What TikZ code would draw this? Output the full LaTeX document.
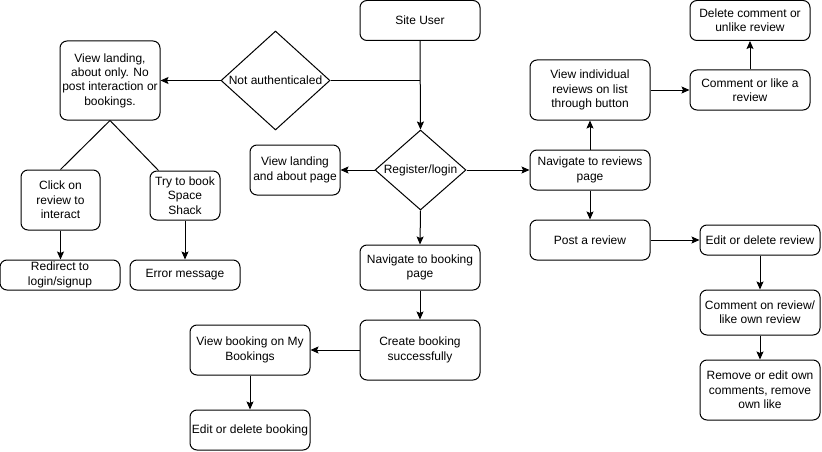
\documentclass[tikz,border=0pt]{standalone}
\usepackage{fontspec}
\setmainfont{Liberation Sans}
\usetikzlibrary{shapes.geometric,arrows.meta}
\begin{document}
\begin{tikzpicture}[x=1pt,y=-1pt,
  every node/.style={font=\fontsize{12}{14.4}\selectfont},
  box/.style={draw,rounded corners=7pt,line width=1pt,align=center,inner sep=0pt},
  dia/.style={draw,diamond,line width=1pt,inner sep=0pt},
  arr/.style={line width=1pt,-{Stealth[length=8pt,width=7pt,inset=1.5pt]}},
  ln/.style={line width=1pt}]
\useasboundingbox (0,0) rectangle (822,452);
\node[box,minimum width=120pt,minimum height=40pt] (su) at (420,20.5) {Site User};
\node[dia,minimum width=109pt,minimum height=99pt,label={center:Not authenticaled}] (na) at (275.5,80.5) {};
\node[box,minimum width=100pt,minimum height=79pt] (vl) at (110,80.5) {View landing,\\about only. No\\post interaction or\\bookings.};
\node[box,minimum width=79pt,minimum height=60pt] (cr) at (60.5,200) {Click on\\review to\\interact};
\node[box,minimum width=70pt,minimum height=49pt] (tb) at (185,195.5) {Try to book\\Space\\Shack};
\node[box,minimum width=120pt,minimum height=30pt] (rd) at (60,275) {Redirect to\\login/signup};
\node[box,minimum width=110pt,minimum height=30pt] (em) at (185,275) {Error message};
\node[box,minimum width=90pt,minimum height=50pt] (vla) at (295,170) {View landing\\and about page};
\node[dia,minimum width=91pt,minimum height=80pt,label={center:Register/login}] (rl) at (420.5,170) {};
\node[box,minimum width=120pt,minimum height=45pt] (nb) at (420,267.5) {Navigate to booking\\page};
\node[box,minimum width=120pt,minimum height=60pt] (cb) at (420,350) {Create booking\\successfully};
\node[box,minimum width=120pt,minimum height=50pt] (vb) at (250,350) {View booking on My\\Bookings};
\node[box,minimum width=120pt,minimum height=40pt] (eb) at (250,430) {Edit or delete booking};
\node[box,minimum width=120pt,minimum height=40pt] (nr) at (590,170) {Navigate to reviews\\page};
\node[box,minimum width=120pt,minimum height=60pt] (vi) at (590,90) {View individual\\reviews on list\\through button};
\node[box,minimum width=120pt,minimum height=40pt] (cl) at (750,90) {Comment or like a\\review};
\node[box,minimum width=120pt,minimum height=40pt] (dc) at (750,20.5) {Delete comment or\\unlike review};
\node[box,minimum width=120pt,minimum height=40pt] (pr) at (590,240) {Post a review};
\node[box,minimum width=120pt,minimum height=30pt] (ed) at (760,240) {Edit or delete review};
\node[box,minimum width=120pt,minimum height=45pt] (co) at (760,312.5) {Comment on review/\\like own review};
\node[box,minimum width=120pt,minimum height=60pt] (rm) at (760,390) {Remove or edit own\\comments, remove\\own like};
\coordinate (j) at (420,80.5);
% connectors
\draw[arr] (su.south) -- (rl.north);
\draw[ln] (na.east) -- (j);
\draw[arr] (na.west) -- (vl.east);
\draw[ln] (vl.south) -- (cr.north);
\draw[ln] (vl.south) -- ([xshift=9pt]tb.north west);
\draw[arr] (cr.south) -- (cr.south |- rd.north);
\draw[arr] (tb.south) -- (em.north);
\draw[arr] (rl.west) -- (vla.east);
\draw[arr] (rl.east) -- (nr.west);
\draw[arr] (rl.south) -- (nb.north);
\draw[arr] (nb.south) -- (cb.north);
\draw[arr] (cb.west) -- (vb.east);
\draw[arr] (vb.south) -- (eb.north);
\draw[arr] (nr.north) -- (vi.south);
\draw[arr] (vi.east) -- (cl.west);
\draw[arr] (cl.north) -- (dc.south);
\draw[arr] (nr.south) -- (pr.north);
\draw[arr] (pr.east) -- (ed.west);
\draw[arr] (ed.south) -- (co.north);
\draw[arr] (co.south) -- (rm.north);
\end{tikzpicture}
\end{document}
